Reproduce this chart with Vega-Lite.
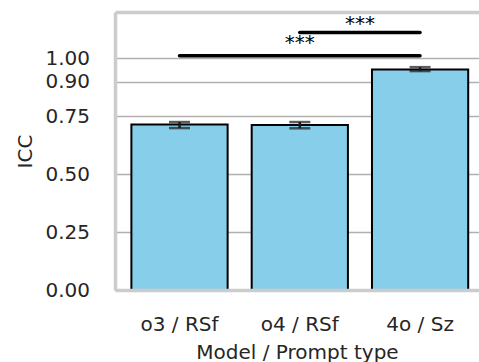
{
  "$schema": "https://vega.github.io/schema/vega-lite/v6.json",
  "autosize": {"type": "none"},
  "padding": {"left": 115, "top": 12, "right": 0, "bottom": 72},
  "width": 364,
  "height": 278,
  "background": "white",
  "config": {
    "font": "DejaVu Sans",
    "view": {"stroke": null},
    "axis": {"labelFont": "DejaVu Sans", "titleFont": "DejaVu Sans", "labelColor": "#262626", "titleColor": "#262626", "titleFontWeight": "normal"}
  },
  "datasets": {
    "bars": [
      {"group": "o3 / RSf", "icc": 0.714, "lo": 0.699, "hi": 0.725},
      {"group": "o4 / RSf", "icc": 0.712, "lo": 0.698, "hi": 0.725},
      {"group": "4o / Sz", "icc": 0.952, "lo": 0.945, "hi": 0.962}
    ],
    "sig": [
      {"x1": 0, "x2": 2, "xm": 1, "y": 1.011, "ty": 1.040, "label": "***"},
      {"x1": 1, "x2": 2, "xm": 1.5, "y": 1.112, "ty": 1.123, "label": "***"}
    ]
  },
  "resolve": {"scale": {"x": "independent"}, "axis": {"x": "independent"}},
  "layer": [
    {
      "data": {"name": "bars"},
      "encoding": {
        "x": {
          "field": "group", "type": "nominal", "sort": null,
          "scale": {"paddingInner": 0.2, "paddingOuter": 0.113, "align": 0.603},
          "axis": {"title": "Model / Prompt type", "labelAngle": 0, "labelFontSize": 20, "titleFontSize": 20, "ticks": false, "tickSize": 0, "labelPadding": 24, "titlePadding": 8, "domain": true, "domainColor": "#cccccc", "domainWidth": 3.5, "grid": false, "zindex": 1}
        }
      },
      "layer": [
        {
          "mark": {"type": "bar", "fill": "#87ceeb", "stroke": "black", "strokeWidth": 2},
          "encoding": {
            "y": {
              "field": "icc", "type": "quantitative",
              "scale": {"domain": [0, 1.2], "nice": false, "zero": true},
              "axis": {"title": "ICC", "values": [0, 0.25, 0.5, 0.75, 0.9, 1.0], "format": ".2f", "labelFontSize": 20, "titleFontSize": 20, "ticks": false, "tickSize": 0, "labelPadding": 25.5, "titlePadding": 9, "domain": true, "domainColor": "#cccccc", "domainWidth": 3.5, "grid": true, "gridColor": "#b0b0b0", "gridWidth": 1.6}
            }
          }
        },
        {
          "mark": {"type": "rule", "color": "#1a1a1a", "strokeWidth": 2.5},
          "encoding": {
            "y": {"field": "lo", "type": "quantitative"},
            "y2": {"field": "hi"}
          }
        },
        {
          "mark": {"type": "tick", "color": "#1a1a1a", "size": 21, "thickness": 2.5, "orient": "horizontal"},
          "encoding": {"y": {"field": "lo", "type": "quantitative"}}
        },
        {
          "mark": {"type": "tick", "color": "#1a1a1a", "size": 21, "thickness": 2.5, "orient": "horizontal"},
          "encoding": {"y": {"field": "hi", "type": "quantitative"}}
        }
      ]
    },
    {
      "data": {"name": "sig"},
      "encoding": {
        "x": {
          "field": "x1", "type": "quantitative",
          "scale": {"domain": [-0.5364, 2.4906], "nice": false, "zero": false},
          "axis": {"orient": "top", "title": null, "labels": false, "ticks": false, "tickSize": 0, "grid": false, "domain": true, "domainColor": "#cccccc", "domainWidth": 3.5}
        }
      },
      "layer": [
        {
          "mark": {"type": "rule", "color": "black", "strokeWidth": 3.5, "strokeCap": "round"},
          "encoding": {
            "x2": {"field": "x2"},
            "y": {"field": "y", "type": "quantitative"}
          }
        },
        {
          "mark": {"type": "text", "font": "DejaVu Sans", "fontSize": 20, "color": "black", "baseline": "alphabetic", "align": "center"},
          "encoding": {
            "x": {"field": "xm", "type": "quantitative"},
            "y": {"field": "ty", "type": "quantitative"},
            "text": {"field": "label"}
          }
        }
      ]
    }
  ]
}
